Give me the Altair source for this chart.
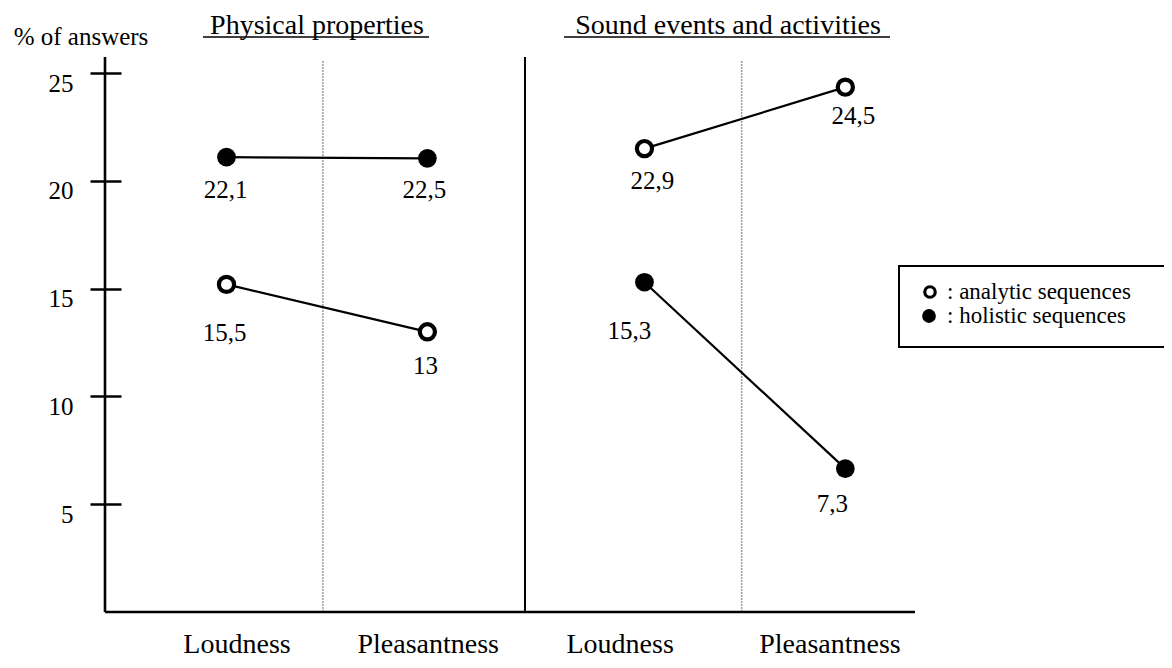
import altair as alt
import pandas as pd

# ---------------- data ----------------
groups = ["Physical properties", "Physical properties",
          "Sound events and activities", "Sound events and activities"]
measures = ["Loudness", "Pleasantness", "Loudness", "Pleasantness"]
# plotted heights (as drawn against the y axis)
analytic_values = [15.2, 13.0, 21.5, 24.35]
holistic_values = [21.1, 21.05, 15.3, 6.65]
# printed value labels
analytic_labels = ["15,5", "13", "22,9", "24,5"]
holistic_labels = ["22,1", "22,5", "15,3", "7,3"]
y_ticks = [5, 10, 15, 20, 25]
y_title = "% of answers"
group_titles = ["Physical properties", "Sound events and activities"]
legend_labels = [": analytic sequences", ": holistic sequences"]

# ---------------- layout / style ----------------
FONT = "Liberation Serif"
W, H = 810, 555
X_MAX, Y_MAX = 100.0, 25.75
PX_X, PX_Y = W / X_MAX, H / Y_MAX
SLOT = {
    ("Physical properties", "Loudness"): 15.0,
    ("Physical properties", "Pleasantness"): 39.8,
    ("Sound events and activities", "Loudness"): 66.6,
    ("Sound events and activities", "Pleasantness"): 91.4,
}
CAT_LABEL_X = [16.3, 39.9, 63.6, 89.5]
DOTTED_X = [26.9, 78.6]
SOLID_X = 51.85
DOTTED_TOP = 25.57
# label offsets in px (dx, dy) below each point
OFFS = {
    "analytic": [(-2, 49), (-2, 34), (8, 32), (8, 29)],
    "holistic": [(-1, 33), (-3, 32), (-15, 49), (-13, 35)],
}

rows = []
for series, vals, labs in [("analytic", analytic_values, analytic_labels),
                           ("holistic", holistic_values, holistic_labels)]:
    for i in range(4):
        x = SLOT[(groups[i], measures[i])]
        dx, dy = OFFS[series][i]
        rows.append({
            "group": groups[i], "measure": measures[i], "series": series,
            "value": vals[i], "label": labs[i],
            "line_id": groups[i] + "|" + series,
            "x": x, "label_x": x + dx / PX_X, "label_y": vals[i] - dy / PX_Y,
        })
df = pd.DataFrame(rows)
cat_df = pd.DataFrame({"measure": measures, "x": CAT_LABEL_X})
one = pd.DataFrame({"k": [0]})  # single row for annotation marks

X_SCALE = alt.Scale(domain=[0, X_MAX], nice=False, zero=False)
Y_SCALE = alt.Scale(domain=[0, Y_MAX], nice=False, zero=False)
Y_AXIS = alt.Axis(values=y_ticks, title=None, domain=False, grid=False,
                  offset=-16, tickSize=31, tickWidth=2.5, tickColor="black",
                  labelPadding=17, labelOffset=10, labelFont=FONT,
                  labelFontSize=25, labelColor="black")


def xf(field):
    return alt.X(field, type="quantitative", scale=X_SCALE, axis=None)


def yf(field):
    return alt.Y(field, type="quantitative", scale=Y_SCALE, axis=Y_AXIS)


def xd(v):
    return alt.XDatum(v, type="quantitative", scale=X_SCALE, axis=None)


def yd(v):
    return alt.YDatum(v, type="quantitative", scale=Y_SCALE, axis=Y_AXIS)


layers = []
# dotted gray dividers
for xv in DOTTED_X:
    layers.append(alt.Chart(one).mark_rule(color="#9a9a9a", strokeWidth=1.5,
                                           strokeDash=[2, 1]).encode(
        x=xd(xv), y=yd(0), y2=alt.Y2Datum(DOTTED_TOP)))
# solid divider
layers.append(alt.Chart(one).mark_rule(color="black", strokeWidth=2).encode(
    x=xd(SOLID_X), y=yd(0), y2=alt.Y2Datum(Y_MAX)))
# axis lines
layers.append(alt.Chart(one).mark_rule(color="black", strokeWidth=2.6).encode(
    x=xd(0), y=yd(0), y2=alt.Y2Datum(Y_MAX)))
layers.append(alt.Chart(one).mark_rule(color="black", strokeWidth=2.6).encode(
    x=xd(0), x2=alt.X2Datum(X_MAX), y=yd(0)))
# connecting lines
layers.append(alt.Chart(df).mark_line(color="black", strokeWidth=2.2).encode(
    x=xf("x"), y=yf("value"), detail="line_id:N"))
# holistic points (filled)
layers.append(alt.Chart(df).transform_filter(alt.datum.series == "holistic")
              .mark_circle(size=350, color="black", opacity=1).encode(
    x=xf("x"), y=yf("value")))
# analytic points (open)
layers.append(alt.Chart(df).transform_filter(alt.datum.series == "analytic")
              .mark_point(shape="circle", size=230, filled=True, fill="white",
                          stroke="black", strokeWidth=4.2, opacity=1).encode(
    x=xf("x"), y=yf("value")))
# value labels
layers.append(alt.Chart(df).mark_text(font=FONT, fontSize=25, color="black",
                                      baseline="middle", align="center").encode(
    x=xf("label_x"), y=yf("label_y"), text="label:N"))
# category labels
layers.append(alt.Chart(cat_df).mark_text(font=FONT, fontSize=28, color="black",
                                          baseline="alphabetic", align="center").encode(
    x=xf("x"), y=alt.value(596), text="measure:N"))
# group titles with underline
title_pos = [(212, 98, 324), (623, 459, 785)]
for t, (cx, x1, x2) in zip(group_titles, title_pos):
    layers.append(alt.Chart(one).mark_text(text=t, font=FONT, fontSize=28,
                                           color="black", baseline="alphabetic",
                                           align="center").encode(
        x=alt.value(cx), y=alt.value(-23)))
    layers.append(alt.Chart(one).mark_rule(color="black", strokeWidth=1.6).encode(
        x=alt.value(x1), x2=alt.value(x2), y=alt.value(-20)))
# y title
layers.append(alt.Chart(one).mark_text(text=y_title, font=FONT, fontSize=25,
                                       color="black", baseline="alphabetic",
                                       align="center").encode(
    x=alt.value(-24), y=alt.value(-12)))
# legend box
layers.append(alt.Chart(one).mark_rect(fill="white", stroke="black",
                                       strokeWidth=2).encode(
    x=alt.value(794), x2=alt.value(1075), y=alt.value(209), y2=alt.value(290)))
layers.append(alt.Chart(one).mark_point(shape="circle", size=110, filled=True,
                                        fill="white", stroke="black",
                                        strokeWidth=3.2, opacity=1).encode(
    x=alt.value(825), y=alt.value(235)))
layers.append(alt.Chart(one).mark_circle(size=190, color="black", opacity=1).encode(
    x=alt.value(824), y=alt.value(259)))
for lab, yy in zip(legend_labels, [235, 259]):
    layers.append(alt.Chart(one).mark_text(text=lab, font=FONT, fontSize=23,
                                           color="black", baseline="middle",
                                           align="left").encode(
        x=alt.value(842), y=alt.value(yy)))

chart = alt.layer(*layers).properties(
    width=W, height=H,
    autosize=alt.AutoSizeParams(type="none"),
    padding={"left": 97, "top": 49, "right": 249, "bottom": 48},
    background="white",
).configure_view(stroke=None)

chart.save("out.html", embed_options={"renderer": "svg", "actions": False})
